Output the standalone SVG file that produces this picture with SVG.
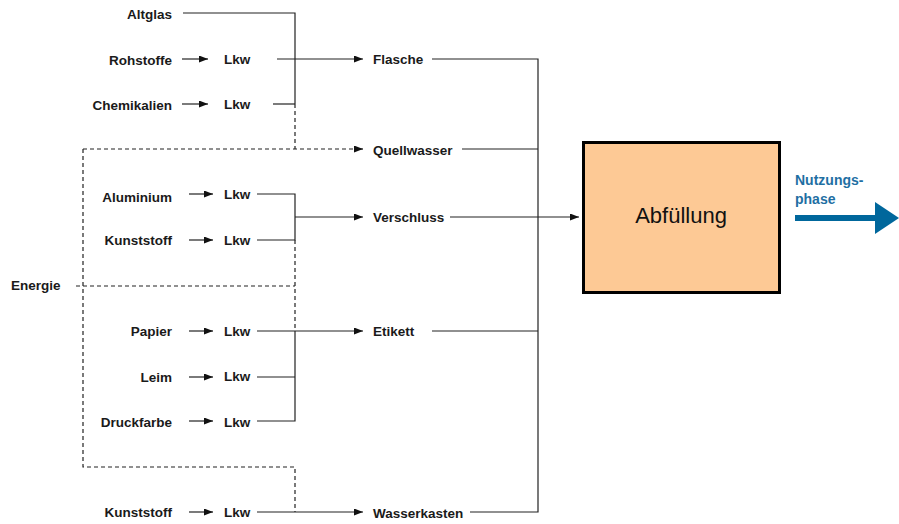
<svg xmlns="http://www.w3.org/2000/svg" width="899" height="524" viewBox="0 0 899 524">
<defs>
<marker id="ah" markerUnits="userSpaceOnUse" markerWidth="10" markerHeight="8" refX="9" refY="3.5" orient="auto">
<path d="M0,0 L9,3.5 L0,7 z" fill="#111"/>
</marker>
<style>
.lbl{font-family:"Liberation Sans",Arial,sans-serif;font-size:13.5px;font-weight:bold;fill:#1a1a1a}
.end{text-anchor:end}
.ln{fill:none;stroke:#222;stroke-width:1.2}
.ar{fill:none;stroke:#222;stroke-width:1.2;marker-end:url(#ah)}
.ds{fill:none;stroke:#222;stroke-width:1.2;stroke-dasharray:4,3}
.blue{font-family:"Liberation Sans",Arial,sans-serif;font-size:14px;font-weight:bold;fill:#1f6fa3}
</style>
</defs>
<rect width="899" height="524" fill="#fff"/>
<g id="connectors">
<polyline class="ln" points="183,13 295,13 295,104"/>
<line class="ar" x1="182" y1="59" x2="208" y2="59"/>
<line class="ar" x1="277" y1="59" x2="363" y2="59"/>
<line class="ar" x1="182" y1="104" x2="208" y2="104"/>
<line class="ln" x1="273" y1="104" x2="295" y2="104"/>
<line class="ds" x1="295" y1="104" x2="295" y2="149"/>
<line class="ds" x1="83" y1="149" x2="355" y2="149"/>
<line class="ar" x1="354" y1="149" x2="363" y2="149"/>
<polyline class="ds" points="83,149 83,467 295,467 295,512"/>
<line class="ds" x1="76" y1="286" x2="295" y2="286"/>
<line class="ds" x1="295" y1="240" x2="295" y2="331"/>
<line class="ar" x1="189" y1="194" x2="213" y2="194"/>
<line class="ar" x1="189" y1="240" x2="213" y2="240"/>
<polyline class="ln" points="257,194 295,194 295,240 257,240"/>
<line class="ar" x1="295" y1="217" x2="363" y2="217"/>
<line class="ar" x1="189" y1="331" x2="213" y2="331"/>
<line class="ar" x1="189" y1="377" x2="213" y2="377"/>
<line class="ar" x1="189" y1="421" x2="213" y2="421"/>
<line class="ar" x1="257" y1="331" x2="363" y2="331"/>
<polyline class="ln" points="295,331 295,421 257,421"/>
<line class="ln" x1="257" y1="377" x2="295" y2="377"/>
<line class="ar" x1="189" y1="512" x2="213" y2="512"/>
<line class="ar" x1="257" y1="512" x2="363" y2="512"/>
<polyline class="ln" points="432,59 538,59 538,512 470,512"/>
<line class="ln" x1="462" y1="149" x2="538" y2="149"/>
<line class="ln" x1="432" y1="331" x2="538" y2="331"/>
<line class="ar" x1="450" y1="217" x2="579" y2="217"/>
</g>
<g id="altglas"><text class="lbl end" x="172" y="19">Altglas</text></g>
<g id="rohstoffe"><text class="lbl end" x="172" y="65">Rohstoffe</text></g>
<g id="lkw1"><text class="lbl" x="224" y="64">Lkw</text></g>
<g id="chemikalien"><text class="lbl end" x="172" y="110">Chemikalien</text></g>
<g id="lkw2"><text class="lbl" x="224" y="109">Lkw</text></g>
<g id="flasche"><text class="lbl" x="373" y="64">Flasche</text></g>
<g id="quellwasser"><text class="lbl" x="373" y="155">Quellwasser</text></g>
<g id="aluminium"><text class="lbl end" x="172" y="202">Aluminium</text></g>
<g id="lkw3"><text class="lbl" x="224" y="199">Lkw</text></g>
<g id="kunststoff1"><text class="lbl end" x="172" y="245">Kunststoff</text></g>
<g id="lkw4"><text class="lbl" x="224" y="245">Lkw</text></g>
<g id="verschluss"><text class="lbl" x="373" y="222">Verschluss</text></g>
<g id="energie"><text class="lbl" x="11" y="290">Energie</text></g>
<g id="papier"><text class="lbl end" x="172" y="336">Papier</text></g>
<g id="lkw5"><text class="lbl" x="224" y="336">Lkw</text></g>
<g id="etikett"><text class="lbl" x="373" y="336">Etikett</text></g>
<g id="leim"><text class="lbl end" x="172" y="382">Leim</text></g>
<g id="lkw6"><text class="lbl" x="224" y="381">Lkw</text></g>
<g id="druckfarbe"><text class="lbl end" x="172" y="427">Druckfarbe</text></g>
<g id="lkw7"><text class="lbl" x="224" y="427">Lkw</text></g>
<g id="kunststoff2"><text class="lbl end" x="172" y="517">Kunststoff</text></g>
<g id="lkw8"><text class="lbl" x="224" y="517">Lkw</text></g>
<g id="wasserkasten"><text class="lbl" x="373" y="518">Wasserkasten</text></g>
<g id="abfuellung">
<rect x="583.5" y="142.5" width="196" height="150" fill="#FDC995" stroke="#000" stroke-width="3"/>
<text x="681" y="223" text-anchor="middle" font-family="Liberation Sans, Arial, sans-serif" font-size="22" fill="#111">Abfüllung</text>
</g>
<g id="nutzungsphase">
<text class="blue" x="795" y="185">Nutzungs-</text>
<text class="blue" x="795" y="204">phase</text>
<rect x="795" y="215" width="82" height="6" fill="#00679C"/>
<polygon points="875,202 899,218 875,234" fill="#00679C"/>
</g>
</svg>
